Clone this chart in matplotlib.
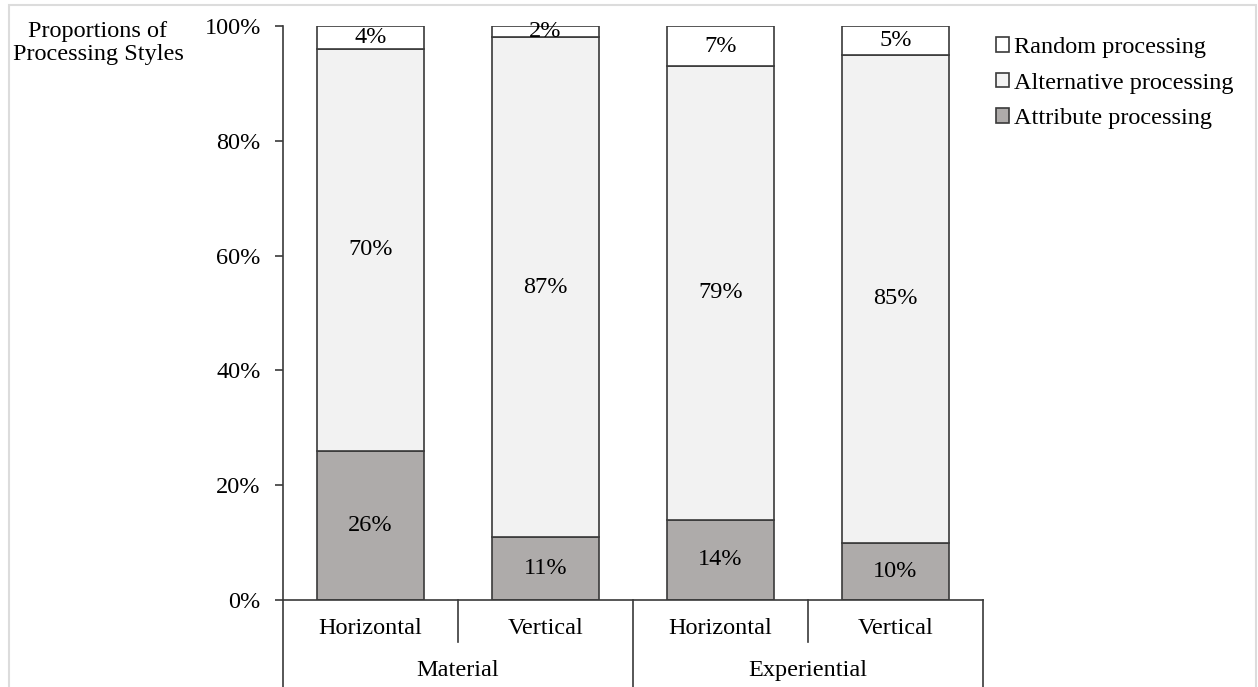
import numpy as np
import matplotlib.pyplot as plt
from matplotlib.patches import Rectangle

plt.rcParams['font.family'] = ['Liberation Serif', 'DejaVu Serif']

groups = ["Material", "Experiential"]
subcats = ["Horizontal", "Vertical", "Horizontal", "Vertical"]
attribute = [26, 11, 14, 10]
alternative = [70, 87, 79, 85]
random_proc = [4, 2, 7, 5]

c_attr = "#aeabaa"
c_alt = "#f2f2f2"
c_rand = "#ffffff"
edge = "#3a3a3a"
fs = 17.5

fig = plt.figure(figsize=(12.58, 6.87), dpi=100)
ax = fig.add_axes([0.225, 0.1266, 0.5564, 0.8356])

x = np.arange(len(subcats))
w = 0.61
attr = np.array(attribute)
alt = np.array(alternative)
rnd = np.array(random_proc)

b1 = ax.bar(x, attr, w, color=c_attr, edgecolor=edge, linewidth=1.2, label="Attribute processing")
b2 = ax.bar(x, alt, w, bottom=attr, color=c_alt, edgecolor=edge, linewidth=1.2, label="Alternative processing")
b3 = ax.bar(x, rnd, w, bottom=attr + alt, color=c_rand, edgecolor=edge, linewidth=1.2, label="Random processing")

for i in range(len(x)):
    ax.text(x[i], attr[i] / 2, f"{attr[i]}%", ha="center", va="center", fontsize=fs)
    ax.text(x[i], attr[i] + alt[i] / 2, f"{alt[i]}%", ha="center", va="center", fontsize=fs)
    ax.text(x[i], attr[i] + alt[i] + rnd[i] / 2, f"{rnd[i]}%", ha="center", va="center", fontsize=fs)

ax.set_xlim(-0.5, len(x) - 0.5)
ax.set_ylim(0, 100)
ax.set_yticks(np.arange(0, 101, 20))
ax.set_yticklabels([f"{v}%" for v in range(0, 101, 20)], fontsize=fs)
ax.tick_params(axis="y", direction="out", length=6, width=1.2, color=edge, pad=10)
ax.set_xticks([])
for s in ["top", "right"]:
    ax.spines[s].set_visible(False)
for s in ["left", "bottom"]:
    ax.spines[s].set_color(edge)
    ax.spines[s].set_linewidth(1.2)

# category table under the axis
trans = ax.get_xaxis_transform()
for xv in [-0.5, 1.5, 3.5]:
    ax.plot([xv, xv], [0, -0.16], transform=trans, color=edge, lw=1.2, clip_on=False)
for xv in [0.5, 2.5]:
    ax.plot([xv, xv], [0, -0.073], transform=trans, color=edge, lw=1.2, clip_on=False)
for i, s in enumerate(subcats):
    ax.text(i, -0.049, s, transform=trans, ha="center", va="center", fontsize=fs)
for j, g in enumerate(groups):
    ax.text(2 * j + 0.5, -0.122, g, transform=trans, ha="center", va="center", fontsize=fs)

fig.text(98 / 1258, 1 - 21 / 687, "Proportions of\nProcessing Styles", ha="center", va="top",
         fontsize=fs, linespacing=1.15)

ax.legend(handles=[b3, b2, b1], loc="upper left", bbox_to_anchor=(996 / 1258, 1 - 37 / 687),
          bbox_transform=fig.transFigure, frameon=False, fontsize=fs,
          handlelength=0.55, handleheight=0.55, handletextpad=0.2, labelspacing=0.6,
          borderaxespad=0, borderpad=0)

fig.patches.append(Rectangle((9 / 1258, -0.05), 1247 / 1258, 1.05 - 5 / 687, transform=fig.transFigure,
                             fill=False, edgecolor="#dcdcdc", lw=1.5))

fig.savefig("out.png", dpi=100)
